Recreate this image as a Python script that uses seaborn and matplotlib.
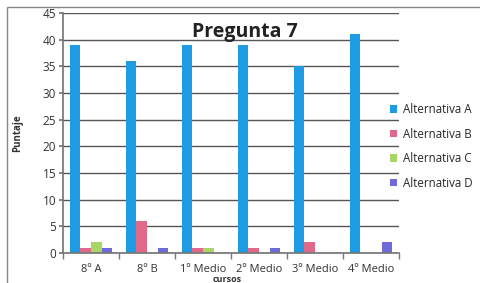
import matplotlib
matplotlib.use("Agg")
import matplotlib.pyplot as plt
import seaborn as sns
import pandas as pd

cursos = ["8º A", "8º B", "1º Medio", "2º Medio", "3º Medio", "4º Medio"]
alternativa_a = [39, 36, 39, 39, 35, 41]
alternativa_b = [1, 6, 1, 1, 2, 0]
alternativa_c = [2, 0, 1, 0, 0, 0]
alternativa_d = [1, 1, 0, 1, 0, 2]
series_names = ["Alternativa A", "Alternativa B", "Alternativa C", "Alternativa D"]
colors = ["#1f9be3", "#e06888", "#a9d466", "#6f6ad8"]

rows = []
for name, vals in zip(series_names, [alternativa_a, alternativa_b, alternativa_c, alternativa_d]):
    for c, v in zip(cursos, vals):
        rows.append({"cursos": c, "Puntaje": v, "serie": name})
df = pd.DataFrame(rows)

sns.set_theme(style="white")
plt.rcParams["font.family"] = ["Open Sans", "DejaVu Sans"]

fig = plt.figure(figsize=(4.8, 2.83), dpi=100)
ax = fig.add_axes([63/480, 1 - 253/283, 336/480, 240/283])
sns.barplot(data=df, x="cursos", y="Puntaje", hue="serie", palette=colors,
            width=0.76, ax=ax, legend=True, saturation=1, linewidth=0, edgecolor="none")

ax.set_ylim(0, 45)
ax.set_yticks(range(0, 46, 5))
ax.set_xlim(-0.5, 5.5)
ax.yaxis.grid(True, color="#555555", linewidth=1.0)
ax.set_axisbelow(True)
for s in ["top", "right"]:
    ax.spines[s].set_visible(False)
ax.spines["left"].set_color("#777777")
ax.spines["bottom"].set_color("#777777")
ax.tick_params(axis="y", labelsize=8.5, length=3, left=True, color="#777777", pad=2)
ax.tick_params(axis="x", labelsize=8, length=0, bottom=True, color="#777777", pad=8)
ax.set_xticks([i + 0.5 for i in range(-1, 6)], minor=True)
ax.tick_params(axis="x", which="minor", length=4, bottom=True, color="#777777")
for t in ax.get_xticklabels() + ax.get_yticklabels():
    t.set_color("#333333")
ax.set_xlabel("cursos", fontsize=6.5, fontweight="bold", color="#333333")
ax.xaxis.set_label_coords(0.49, -0.11)
ax.xaxis.label.set_va("center")
ax.set_ylabel("Puntaje", fontsize=7, fontweight="bold", color="#333333")
ax.yaxis.set_label_coords(-0.12, 0.5)

ax.text(0.54, 0.92, "Pregunta 7", transform=ax.transAxes, ha="center", va="center",
        fontsize=14, fontweight="bold", color="#222222")

ax.legend(loc="upper left", bbox_to_anchor=(390/480, 1 - 103/283), bbox_transform=fig.transFigure,
          frameon=False, fontsize=8.3, borderaxespad=0, borderpad=0,
          handlelength=0.6, handleheight=0.6, handletextpad=0.5, labelspacing=1.0)

fig.patches.append(matplotlib.patches.Rectangle((7/480, -0.05), 1.2, 1 - 7/283 + 0.05, transform=fig.transFigure,
                                                fill=False, edgecolor="#888888", linewidth=1))
fig.savefig("out.png", dpi=100)
